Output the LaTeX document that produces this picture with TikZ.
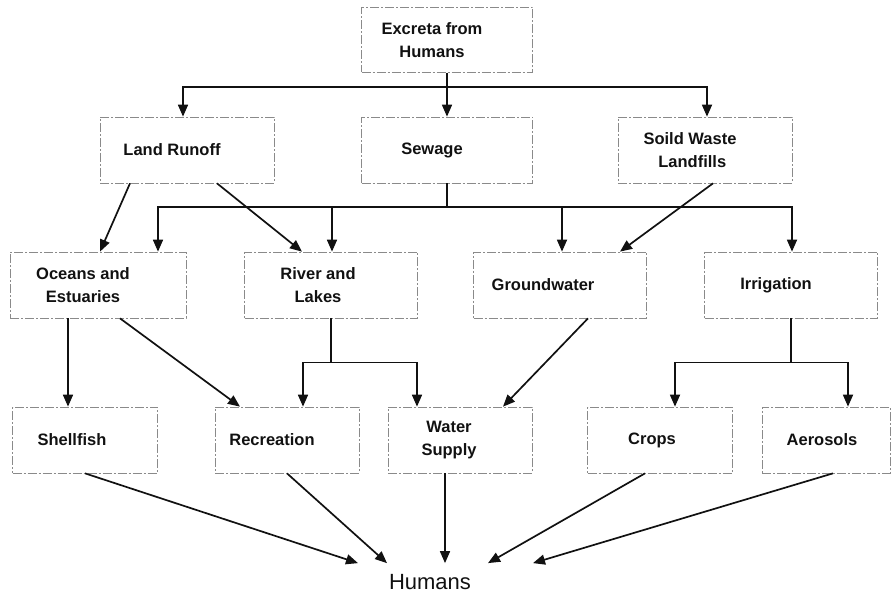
\documentclass[tikz,border=0pt]{standalone}
\usepackage{fontspec}
\setsansfont{Liberation Sans}
\usepackage{xcolor}
\usepackage{tikz}
\usetikzlibrary{arrows.meta,positioning}
\definecolor{ink}{HTML}{111111}
\definecolor{rule}{HTML}{8A8A8A}
\tikzset{
  box/.style={rectangle, draw=rule, line width=0.7pt,
              dash pattern=on 9pt off 2pt on 2pt off 2pt,
              minimum width=172pt, minimum height=66pt, inner sep=0pt},
  boxw/.style={box, minimum width=174pt},
  boxs/.style={box, minimum width=145pt},
  txt/.style={align=center, xshift=-15pt, inner sep=0pt,
              font=\sffamily\bfseries\fontsize{16.5}{23}\selectfont, text=ink},
  fl/.style={-{Triangle[length=12pt,width=10pt]}, draw=ink, line width=1.7pt},
  ln/.style={draw=ink, line width=1.7pt}
}

\begin{document}
\begin{tikzpicture}[x=1pt, y=-1pt]
  \useasboundingbox (0,0) rectangle (896,593);
  \node[box, minimum width=171pt, minimum height=65pt,
        label={[txt]center:Excreta from\\Humans}] (ex) at (447,40) {};
  \node[boxw, label={[txt]center:Land Runoff}] (land) at (187,150) {};
  \node[box, minimum width=171pt, label={[txt]center:Sewage}] (sew) at (447,150) {};
  \node[boxw, label={[txt]center:Soild Waste\\\ Landfills}] (soil) at (705,150) {};
  \node[boxw, minimum width=176pt, label={[txt]center:Oceans and\\Estuaries}] (ocean) at (98,285) {};
  \node[boxw, minimum width=173pt, label={[txt,xshift=2pt]center:River and\\Lakes}] (river) at (331,285) {};
  \node[boxw, minimum width=173pt, label={[txt,xshift=-2pt]center:Groundwater}] (ground) at (560,285) {};
  \node[boxw, minimum width=173pt, label={[txt]center:Irrigation}] (irr) at (791,285) {};
  \node[boxs, label={[txt,xshift=2pt]center:Shellfish}] (shell) at (85,440) {};
  \node[boxs, minimum width=144pt, label={[txt]center:Recreation}] (rec) at (287,440) {};
  \node[boxs, minimum width=144pt, label={[txt,xshift=4pt]center:Water\\Supply}] (water) at (460,440) {};
  \node[boxs, label={[txt,xshift=7pt]center:Crops}] (crops) at (660,440) {};
  \node[boxs, minimum width=128pt, label={[txt,xshift=11pt]center:Aerosols}] (aero) at (826,440) {};
  \node[font=\sffamily\fontsize{22}{26}\selectfont, text=ink, inner sep=2pt] (hum) at (430,582) {Humans};

  \coordinate (b1) at ([yshift=-14pt]ex.south);
  \coordinate (b2) at ([yshift=-24pt]sew.south);
  \coordinate (b3) at ([yshift=-44pt]river.south);
  \coordinate (b4) at ([yshift=-44pt]irr.south);
  \coordinate (h) at ([yshift=9pt]hum.north);

  \draw[fl] (ex) -- (sew);
  \draw[fl] (b1) -| ([xshift=-4pt]land.north);
  \draw[fl] (b1) -| ([xshift=2pt]soil.north);

  \draw[ln] (sew) -- (b2);
  \draw[fl] (b2) -| ([xshift=60pt]ocean.north);
  \draw[fl] (b2) -| ([xshift=1pt]irr.north);
  \draw[fl] ([xshift=1pt]river.north |- b2) -- ([xshift=1pt]river.north);
  \draw[fl] ([xshift=2pt]ground.north |- b2) -- ([xshift=2pt]ground.north);
  \draw[fl] ([xshift=-57pt]land.south) -- ([xshift=2pt]ocean.north);
  \draw[fl] ([xshift=30pt]land.south) -- ([xshift=-29pt]river.north);
  \draw[fl] ([xshift=8pt]soil.south) -- ([xshift=60pt]ground.north);

  \draw[fl] ([xshift=-30pt]ocean.south) -- ([xshift=-17pt]shell.north);
  \draw[fl] ([xshift=22pt]ocean.south) -- ([xshift=-47pt]rec.north);
  \draw[ln] (river) -- (b3);
  \draw[fl] (b3) -| ([xshift=16pt]rec.north);
  \draw[fl] (b3) -| ([xshift=-43pt]water.north);
  \draw[fl] ([xshift=28pt]ground.south) -- ([xshift=43pt]water.north);
  \draw[ln] (irr) -- (b4);
  \draw[fl] (b4) -| ([xshift=15pt]crops.north);
  \draw[fl] (b4) -| ([xshift=22pt]aero.north);

  \draw[fl] (shell.south) -- ([xshift=-72pt]h);
  \draw[fl] (rec.south) -- ([xshift=-43pt]h);
  \draw[fl] ([xshift=-15pt]water.south) -- ([xshift=15pt]h);
  \draw[fl] ([xshift=-15pt]crops.south) -- ([xshift=58pt]h);
  \draw[fl] ([xshift=7pt]aero.south) -- ([xshift=103pt]h);
\end{tikzpicture}
\end{document}
